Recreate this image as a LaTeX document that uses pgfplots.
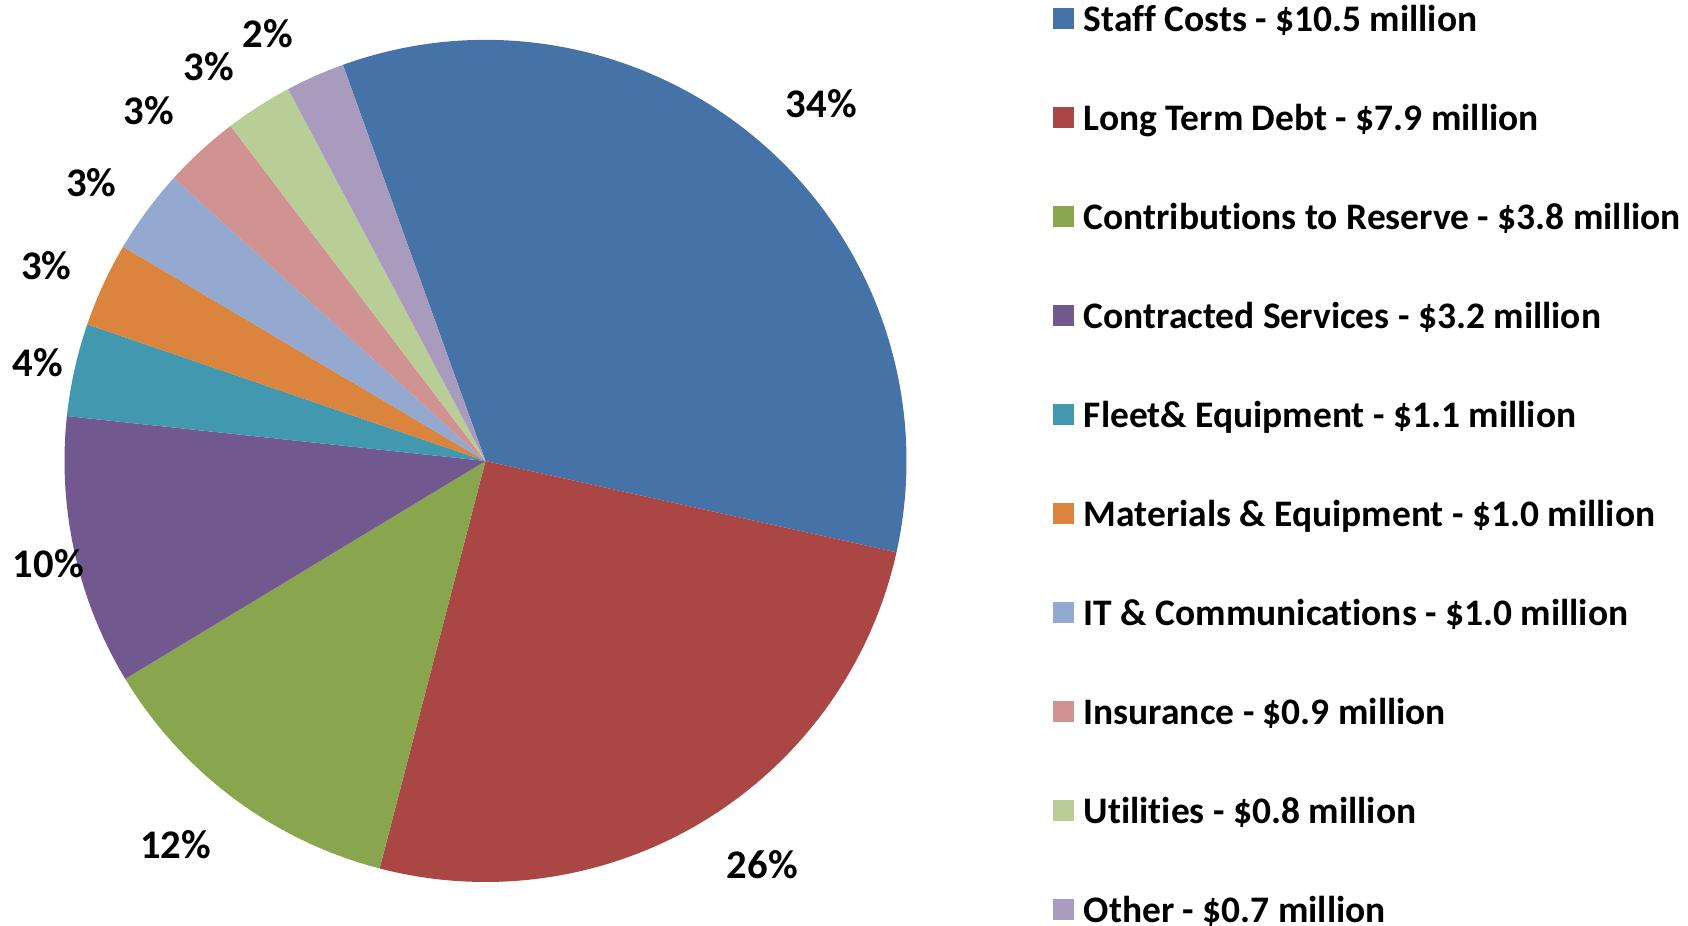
\documentclass[border=0pt]{standalone}
\usepackage{pgfplots}
\pgfplotsset{compat=1.18}
\usepackage{pgfplotstable}
\usepackage{fontspec}
\setmainfont[RawFeature={-liga;-clig;-calt;-dlig}]{Carlito}

\definecolor{c0}{HTML}{4572A7}
\definecolor{c1}{HTML}{AA4643}
\definecolor{c2}{HTML}{89A54E}
\definecolor{c3}{HTML}{71588F}
\definecolor{c4}{HTML}{4198AF}
\definecolor{c5}{HTML}{DB843D}
\definecolor{c6}{HTML}{93A9CF}
\definecolor{c7}{HTML}{D19392}
\definecolor{c8}{HTML}{B9CD96}
\definecolor{c9}{HTML}{A99BBD}

% value (million $), label centre (px from left, px from top), legend text
\pgfplotstableread[col sep=comma]{
value,lx,ly,name
10.5,821.4,103.3,Staff Costs - \$10.5 million
7.9,762.2,864.4,Long Term Debt - \$7.9 million
3.8,175.5,845.1,Contributions to Reserve - \$3.8 million
3.2,48.4,564.1,Contracted Services - \$3.2 million
1.1,37.7,362.8,Fleet\& Equipment - \$1.1 million
1.0,46.3,265.9,Materials \& Equipment - \$1.0 million
1.0,91.5,183.0,IT \& Communications - \$1.0 million
0.9,148.6,110.9,Insurance - \$0.9 million
0.8,208.8,66.7,Utilities - \$0.8 million
0.7,268.0,33.4,Other - \$0.7 million
}\slices

\begin{document}
\begin{tikzpicture}
\begin{axis}[hide axis, x=0.25bp, y=0.25bp, xmin=0, xmax=1688, ymin=0, ymax=926, clip=false]
\coordinate (BL) at (axis cs:0,0);
\coordinate (TR) at (axis cs:1688,926);
\gdef\total{0}
\pgfplotsinvokeforeach{0,...,9}{%
  \pgfplotstablegetelem{#1}{value}\of\slices
  \pgfmathsetmacro\tmp{\total+\pgfplotsretval}%
  \global\let\total\tmp
}
\gdef\a{109.8}
\pgfplotsinvokeforeach{0,...,9}{%
  \pgfplotstablegetelem{#1}{value}\of\slices \let\v\pgfplotsretval
  \pgfplotstablegetelem{#1}{lx}\of\slices \let\lx\pgfplotsretval
  \pgfplotstablegetelem{#1}{ly}\of\slices \let\ly\pgfplotsretval
  \pgfplotstablegetelem{#1}{name}\of\slices \let\nm\pgfplotsretval
  \pgfmathsetmacro\b{\a-360*\v/\total}%
  \pgfmathtruncatemacro\p{round(100*\v/\total)}%
  \pgfmathsetmacro\lyy{926-\ly}%
  \pgfmathsetmacro\ly{926-(18.3+99*#1)}%
  \pgfmathsetmacro\lyb{\ly-10.5}%
  \pgfmathsetmacro\lyt{\ly+10.5}%
  \edef\cmd{%
    \noexpand\fill[c#1] (axis cs:485.5,465) -- ++(\a:105.25bp) arc[start angle=\a, end angle=\b, radius=105.25bp] -- cycle;
    \noexpand\node[font=\noexpand\fontsize{10.2}{12}\noexpand\bfseries, inner sep=0pt] at (axis cs:\lx,\lyy) {\p\noexpand\%};
    \noexpand\fill[c#1] (axis cs:1053,\lyb) rectangle (axis cs:1074,\lyt);
    \noexpand\node[font=\noexpand\fontsize{9.4}{11}\noexpand\bfseries, anchor=west, inner sep=0pt, text height=0.644em, text depth=0pt] at (axis cs:1083,\ly) {\expandafter\unexpanded\expandafter{\nm}};
  }%
  \cmd
  \global\let\a\b
}
\end{axis}
\pgfresetboundingbox
\useasboundingbox (BL) rectangle (TR);
\end{tikzpicture}
\end{document}
